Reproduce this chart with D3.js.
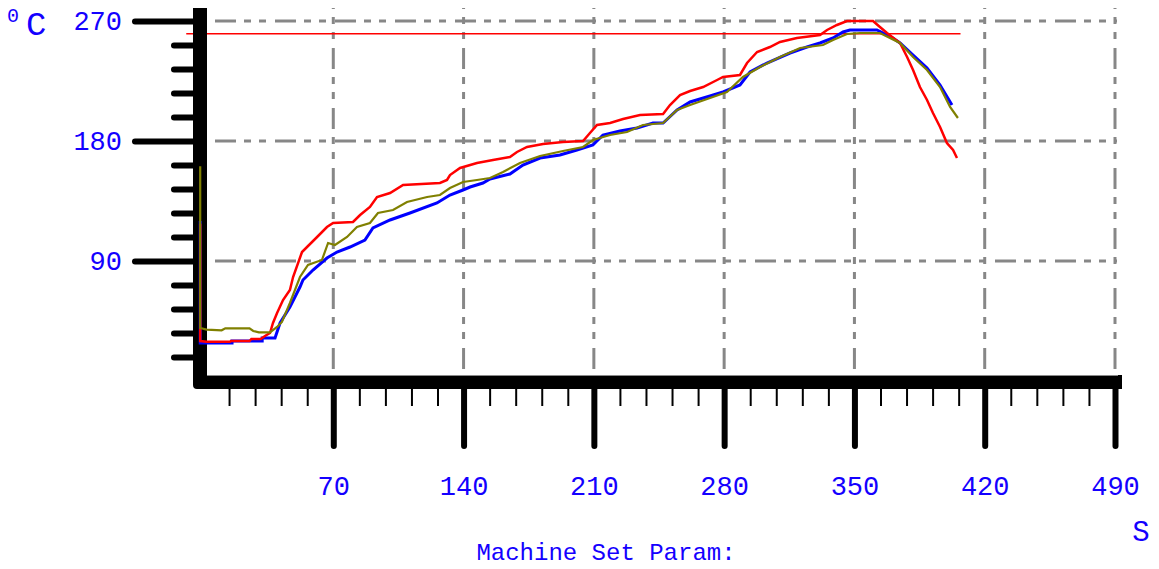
<!DOCTYPE html>
<html>
<head>
<meta charset="utf-8">
<script src="https://cdn.jsdelivr.net/npm/d3@7/dist/d3.min.js"></script>
<style>
  html, body { margin: 0; padding: 0; background: #fff; }
  svg { display: block; }
  .lbl { font-family: "Liberation Mono", "Courier New", monospace; fill: #1400ff; }
</style>
</head>
<body>
<svg id="chart" width="1159" height="569"></svg>
<script>
// time (s) / temperature (degC) readings
var redSeries = [
  [-1.5,118],[-1.5,30],[2,29.5],[14.5,29.5],[15,30],[25,30],[26,31.5],[31,31.5],
  [33.3,33.75],[36,36],[37.6,43.5],[39.8,51],[43,60.75],[46.7,68.25],[48.4,78],
  [53.2,96.75],[55.9,100.5],[61.3,108],[66.6,115.5],[69.9,118.5],[80.6,119.25],
  [84.4,124.5],[89.7,130.5],[93.5,138],[100.5,141],[107.5,147],[127.3,148.5],
  [131.1,150.75],[132.7,154.5],[138.1,159.75],[147.2,163.5],[155.8,165.75],
  [164.9,168],[168.7,171.75],[174.1,175.5],[182.7,177.75],[193.4,179.25],
  [204.2,180],[207.9,186],[211.7,192],[218.7,193.5],[225.7,196.5],[234.8,199.5],
  [247.2,200.25],[250.9,207],[256.3,214.5],[261.7,217.5],[268.7,220.5],
  [276.2,225.75],[279.4,228],[288.5,229.5],[292.3,238.5],[297.7,246.75],
  [304.6,250.5],[310,254.25],[319.1,257.25],[331.5,259.5],[335.3,263.25],
  [340.6,267],[346,270],[360,270],[363.7,265.5],[367.5,261],[374.5,253.5],
  [378.3,243],[381.5,233.25],[385.2,220.5],[389,210.75],[392.2,201],[396,190.5],
  [399.7,178.5],[403,173.25],[405.1,167.25]
];
var blueSeries = [
  [-1.5,120],[-1.5,28.5],[2.2,28.5],[15.6,28.5],[15.6,30],[31.8,30],[31.8,32.25],
  [38.7,32.25],[41.4,43.5],[46.7,55.5],[52.1,70.5],[53.7,75.75],[59.1,83.25],
  [66.6,92.25],[72,96.75],[79,100.5],[87,105.75],[91.3,114.75],[100.5,120.75],
  [111.2,126],[125.7,133.5],[132.7,139.5],[139.7,143.25],[143.5,145.5],
  [150.4,148.5],[154.2,151.5],[164.9,155.25],[171.9,162],[181.1,167.25],
  [191.8,169.5],[200.9,173.25],[209.5,177],[214.9,184.5],[224,187.5],
  [233.2,189.75],[241.8,193.5],[247.2,193.5],[254.7,203.25],[261.7,209.25],
  [272.4,213.75],[279.4,216.75],[288.5,222],[293.9,231.75],[303,238.5],
  [315.4,246],[324.5,250.5],[331.5,253.5],[338.5,257.25],[343.9,261.75],
  [347.6,263.25],[362.1,263.25],[365.4,261],[369,258.75],[374.5,253.5],
  [381.5,244.5],[389,234.75],[396,222],[402.4,207]
];
var oliveSeries = [
  [-1.5,161],[-1.5,39.75],[2,38.5],[10,38],[12,39.5],[25,39.5],[27,37.5],
  [30,36.5],[36,36.5],[39.8,40.5],[42.4,44.25],[46.7,58.5],[52.1,78],[56.4,87],
  [63.9,90.75],[67.2,103.5],[70.9,102],[77.4,108],[82.7,115.5],[89.7,118.5],
  [94,126],[102.1,128.25],[109.6,134.25],[120.4,138],[127.3,139.5],[132.7,144.75],
  [139.7,149.25],[147.2,150.75],[154.2,152.25],[161.2,156.75],[170.3,163.5],
  [181.1,168.75],[193.4,172.5],[204.2,175.5],[209.5,180.75],[218.7,184.5],
  [227.8,186.75],[236.4,192],[247.2,193.5],[254.7,203.25],[261.7,207],
  [272.4,212.25],[281.5,216.75],[290.1,228],[299.3,235.5],[310,243],
  [320.8,249.75],[333.1,252],[338.5,255.75],[346,260.25],[353,261],[363.7,261],
  [369.1,257.25],[374.5,253.5],[381.5,243],[389,233.25],[396,220.5],
  [401.4,205.5],[405.6,197.25]
];
var setpointLine = [[-9,260.5],[407,260.5]];

var timeMajor = [70,140,210,280,350,420,490];
var timeMinor = d3.range(14, 490, 14).filter(function(v){ return v % 70 !== 0; });
var tempMajor = [90,180,270];
var tempMinor = [18,36,54,72,108,126,144,162,198,216,234,252];

var xLabel = "S";
var yLabelSup = "0";
var yLabel = "C";
var footer = "Machine Set Param:";

var svg = d3.select("#chart");
var x = d3.scaleLinear().domain([0,490]).range([203,1115]);
var y = d3.scaleLinear().domain([0,270]).range([381,21]);

var gridColor = "#878787";
var dash = "21,8,7,8,7,9";

// grid
svg.append("g").selectAll("line").data(tempMajor).enter().append("line")
  .attr("x1",207).attr("x2",1117)
  .attr("y1",function(d){ return y(d); }).attr("y2",function(d){ return y(d); })
  .attr("stroke",gridColor).attr("stroke-width",3).attr("stroke-dasharray",dash)
  .attr("stroke-dashoffset",-8);
svg.append("g").selectAll("line").data(timeMajor).enter().append("line")
  .attr("x1",function(d){ return x(d); }).attr("x2",function(d){ return x(d); })
  .attr("y1",8).attr("y2",376)
  .attr("stroke",gridColor).attr("stroke-width",3).attr("stroke-dasharray",dash)
  .attr("stroke-dashoffset",-40);

// setpoint
var line = d3.line().x(function(d){ return x(d[0]); }).y(function(d){ return y(d[1]); });
svg.append("path").datum(setpointLine).attr("d",line)
  .attr("fill","none").attr("stroke","#ff0000").attr("stroke-width",1.5);

// thick axis frame
svg.append("path")
  .attr("d","M193,8H207V375H1122V389H197Q193,389 193,385Z")
  .attr("fill","#000");
svg.append("line").attr("x1",207).attr("x2",1118).attr("y1",375.5).attr("y2",375.5)
  .attr("stroke","#8a8a8a").attr("stroke-width",1);

// y ticks
var yMajorAxis = d3.axisLeft(y).tickValues(tempMajor).tickSize(58).tickPadding(13);
var gy = svg.append("g").attr("transform","translate(193,0)").call(yMajorAxis);
gy.select(".domain").remove();
gy.selectAll("line").attr("stroke","#000").attr("stroke-width",6).attr("stroke-linecap","round");
gy.selectAll("text").attr("class","lbl").attr("font-size",27).attr("fill",null).attr("font-family",null);

var yMinorAxis = d3.axisLeft(y).tickValues(tempMinor).tickSize(19).tickFormat("");
var gy2 = svg.append("g").attr("transform","translate(193,0)").call(yMinorAxis);
gy2.select(".domain").remove();
gy2.selectAll("line").attr("stroke","#000").attr("stroke-width",6).attr("stroke-linecap","round");

// x ticks
var xMajorAxis = d3.axisBottom(x).tickValues(timeMajor).tickSize(57).tickPadding(30);
var gx = svg.append("g").attr("transform","translate(0,389)").call(xMajorAxis);
gx.select(".domain").remove();
gx.selectAll("line").attr("stroke","#000").attr("stroke-width",6).attr("stroke-linecap","round");
gx.selectAll("text").attr("class","lbl").attr("font-size",27).attr("fill",null).attr("font-family",null);

var xMinorAxis = d3.axisBottom(x).tickValues(timeMinor).tickSize(17).tickFormat("");
var gx2 = svg.append("g").attr("transform","translate(0,389)").call(xMinorAxis);
gx2.select(".domain").remove();
gx2.selectAll("line").attr("stroke","#000").attr("stroke-width",2);

// series
[[blueSeries,"#0000ff",3],[redSeries,"#ff0000",2.5],[oliveSeries,"#808000",2.2]].forEach(function(s){
  svg.append("path").datum(s[0]).attr("d",line)
    .attr("fill","none").attr("stroke",s[1]).attr("stroke-width",s[2])
    .attr("stroke-linejoin","miter");
});

// unit labels
svg.append("text").attr("class","lbl").attr("x",7).attr("y",22).attr("font-size",20).text(yLabelSup);
svg.append("text").attr("class","lbl").attr("x",26).attr("y",35).attr("font-size",34).text(yLabel);
svg.append("text").attr("class","lbl").attr("x",1141).attr("y",541).attr("font-size",29)
  .attr("text-anchor","middle").text(xLabel);
svg.append("text").attr("class","lbl").attr("x",606).attr("y",560).attr("font-size",24)
  .attr("text-anchor","middle").text(footer);
</script>
</body>
</html>
